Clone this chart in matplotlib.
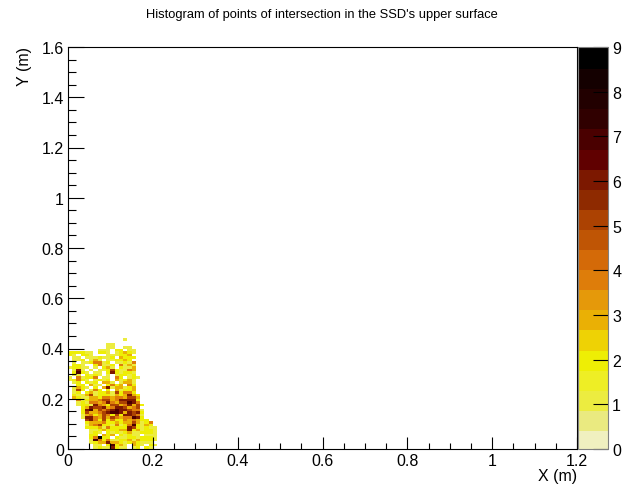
import matplotlib
matplotlib.use('Agg')
import matplotlib.pyplot as plt
from matplotlib.colors import ListedColormap, BoundaryNorm
from matplotlib.ticker import MultipleLocator
import numpy as np

plt.rcParams['font.family'] = ['Liberation Sans', 'DejaVu Sans']

title = "Histogram of points of intersection in the SSD's upper surface"
x_label = "X (m)"
y_label = "Y (m)"

bin_width = 0.01

# counts per 0.01 m x 0.01 m bin, top row first (y = 0.43 down to y = 0)
rows = [
    "0000000000000100000000",
    "0000000000000000000000",
    "0000000001100000000000",
    "0000000001100110000000",
    "0000000111022011000000",
    "2222110221012321000000",
    "2102210001112230000000",
    "0110111211203222000000",
    "0112013101122320000000",
    "0101124412011214000000",
    "0221002411204131000000",
    "1221101023102113000000",
    "0161010112521143000000",
    "0272101102621221000000",
    "0110212101012212000000",
    "1041224011042012100000",
    "1242101212031231000000",
    "0120212033101331000000",
    "0022031102423042000000",
    "0132102036133123000000",
    "0152014202031223000000",
    "0120231223152442000000",
    "0211351222132363200000",
    "0321133244344355300000",
    "0041233455346666200000",
    "0012144346435576400000",
    "0012216432553463520000",
    "0002365563466534500000",
    "0002673545676654410000",
    "0002533456776365620000",
    "0001342354252665410000",
    "0001664353543447620000",
    "0000564252422434322000",
    "0000233342232335312400",
    "0000134522141247213200",
    "0000222314222265212110",
    "0000011232223362312210",
    "0000012102121231122210",
    "0000022032302121101110",
    "0000024922021122122210",
    "0000017424112231322210",
    "0000012336332123211100",
    "0000001102723103210210",
    "0000001211621101202100",
]

palette = ["#f0f0c0", "#eaea80", "#ecec40", "#eeee25", "#eeee05",
           "#eed205", "#eab005", "#e5990a", "#de7d0a", "#d46a08",
           "#bf5505", "#ac4202", "#8e2a00", "#7c1800", "#600000",
           "#4a0000", "#300000", "#220000", "#140000", "#000000"]

x_ticks = [0, 0.2, 0.4, 0.6, 0.8, 1, 1.2]
y_ticks = [0, 0.2, 0.4, 0.6, 0.8, 1, 1.2, 1.4, 1.6]
z_ticks = list(range(10))

W, H = 627, 489
fig = plt.figure(figsize=(W / 100, H / 100), dpi=100)
ax = fig.add_axes([68 / W, 1 - 450 / H, (577 - 68) / W, (450 - 48) / H])
cax = fig.add_axes([578 / W, 1 - 450 / H, 30 / W, (450 - 48) / H])

counts = np.array([[int(c) for c in r] for r in rows[::-1]], dtype=float)
counts = np.ma.masked_equal(counts, 0)
xedges = np.arange(counts.shape[1] + 1) * bin_width
yedges = np.arange(counts.shape[0] + 1) * bin_width

cmap = ListedColormap(palette)
norm = BoundaryNorm(np.linspace(0, 9, 21), 20, clip=True)
mesh = ax.pcolormesh(xedges, yedges, counts, cmap=cmap, norm=norm, linewidth=0)

ax.set_xlim(0, 1.2)
ax.set_ylim(0, 1.6)
ax.set_xticks(x_ticks)
ax.set_xticklabels(['0', '0.2', '0.4', '0.6', '0.8', '1', '1.2'])
ax.set_yticks(y_ticks)
ax.set_yticklabels(['0', '0.2', '0.4', '0.6', '0.8', '1', '1.2', '1.4', '1.6'])
ax.xaxis.set_minor_locator(MultipleLocator(0.05))
ax.yaxis.set_minor_locator(MultipleLocator(0.05))
ax.tick_params(axis='x', which='major', direction='in', length=8.6, width=0.8, labelsize=11.5, pad=3)
ax.tick_params(axis='x', which='minor', direction='in', length=4.3, width=0.8)
ax.tick_params(axis='y', which='major', direction='in', length=11.5, width=0.8, labelsize=11.5, pad=3)
ax.tick_params(axis='y', which='minor', direction='in', length=5.8, width=0.8)
for s in ax.spines.values():
    s.set_linewidth(0.8)

fig.text(322 / W, 1 - 15 / H, title, ha='center', va='center', fontsize=9.25)
fig.text(577 / W, 1 - 477 / H, x_label, ha='right', va='center', fontsize=11.5)
fig.text(24 / W, 1 - 47 / H, y_label, ha='center', va='top', rotation=90, fontsize=11.5)

cb = fig.colorbar(mesh, cax=cax, ticks=z_ticks, spacing='proportional', drawedges=False)
cb.minorticks_off()
cb.solids.set_edgecolor('face')
cax.tick_params(which='major', direction='in', length=11, width=0.8, labelsize=11.5, pad=3, right=True)
cb.outline.set_edgecolor('#808080')
cb.outline.set_linewidth(0.8)

fig.savefig('out.png', dpi=100)
